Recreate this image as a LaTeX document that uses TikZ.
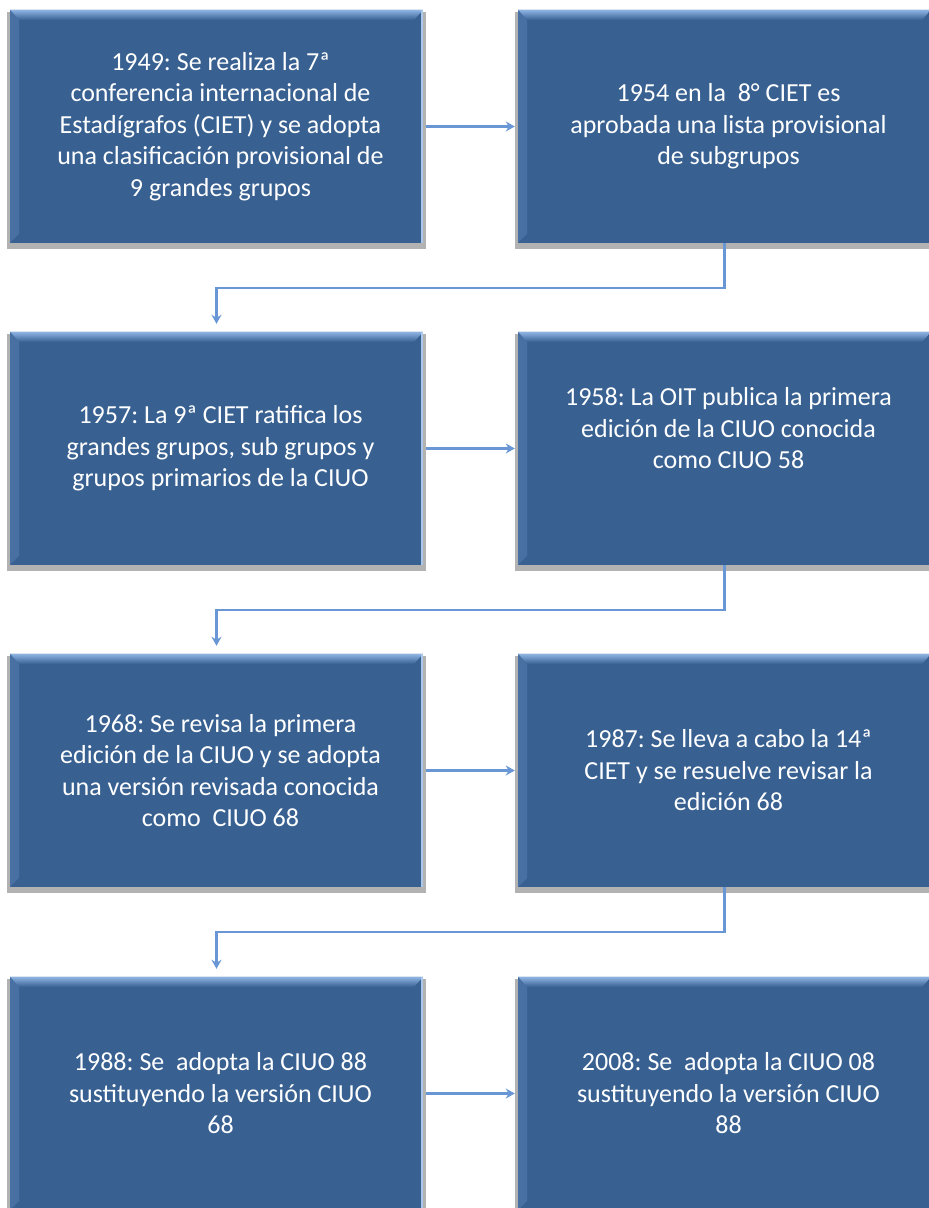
\documentclass[tikz,border=0pt]{standalone}
\usepackage{fontspec}
\setmainfont{Carlito}
\frenchspacing
\usetikzlibrary{arrows.meta,shadows}

\definecolor{boxblue}{RGB}{56,97,146}
\definecolor{bevtop}{RGB}{140,178,226}
\definecolor{bevside}{RGB}{72,112,162}
\definecolor{bevedge}{RGB}{170,200,235}
\definecolor{linkblue}{RGB}{105,150,212}

\begin{document}
\begin{tikzpicture}[x=1pt, y=1pt,
  event/.style={rectangle, fill=boxblue, minimum width=413pt, minimum height=233pt, inner sep=0pt,
    general shadow={fill=black!30, shadow yshift=-4pt, shadow scale=1.015},
    path picture={
      \coordinate (nw) at (path picture bounding box.north west);
      \coordinate (ne) at (path picture bounding box.north east);
      \coordinate (sw) at (path picture bounding box.south west);
      \coordinate (se) at (path picture bounding box.south east);
      \fill[top color=bevtop, bottom color=boxblue] (nw) -- (ne) -- ([shift={(-9pt,-10pt)}]ne) -- ([shift={(9pt,-10pt)}]nw) -- cycle;
      \fill[bevside] (nw) -- ([shift={(9pt,-10pt)}]nw) -- ([shift={(9pt,9pt)}]sw) -- (sw) -- cycle;
      \fill[bevedge] ([xshift=-2.5pt]ne) rectangle (se);
    }},
  caption/.style={text=white, align=center, xshift=4pt, font=\fontsize{26}{31.5}\selectfont},
  link/.style={draw=linkblue, line width=2.2pt, -{Stealth[length=9pt,width=10pt]}}]
\useasboundingbox (0,0) rectangle (929,1208);

% boxes
\node[event] (y1949) at (216.5,1081.5) {};
\node[event] (y1954) at (724.5,1081.5) {};
\node[event] (y1957) at (216.5,759.5) {};
\node[event] (y1958) at (724.5,759.5) {};
\node[event] (y1968) at (216.5,437.5) {};
\node[event] (y1987) at (724.5,437.5) {};
\node[event] (y1988) at (216.5,114.5) {};
\node[event] (y2008) at (724.5,114.5) {};

% texts
\node[caption] (t1949) at (y1949) {1949: Se realiza la 7ª\\conferencia internacional de\\Estadígrafos (CIET) y se adopta\\una clasificación provisional de\\9 grandes grupos};
\node[caption] (t1954) at (y1954) {1954 en la~~8° CIET es\\aprobada una lista provisional\\de subgrupos};
\node[caption] (t1957) at (y1957) {1957: La 9ª CIET ratifica los\\grandes grupos, sub grupos y\\grupos primarios de la CIUO};
\node[caption, yshift=20pt] (t1958) at (y1958) {1958: La OIT publica la primera\\edición de la CIUO conocida\\como CIUO 58};
\node[caption] (t1968) at (y1968) {1968: Se revisa la primera\\edición de la CIUO y se adopta\\una versión revisada conocida\\como~~CIUO 68};
\node[caption] (t1987) at (y1987) {1987: Se lleva a cabo la 14ª\\CIET y se resuelve revisar la\\edición 68};
\node[caption] (t1988) at (y1988) {1988: Se~~adopta la CIUO 88\\sustituyendo la versión CIUO\\68};
\node[caption] (t2008) at (y2008) {2008: Se~~adopta la CIUO 08\\sustituyendo la versión CIUO\\88};

% connectors
\draw[link, shorten <=3pt, shorten >=3pt] (y1949.east) -- (y1954.west);
\draw[link, shorten >=8pt] (y1954.south) -- ++(0,-44.5) -| (y1957.north);
\draw[link, shorten <=3pt, shorten >=3pt] (y1957.east) -- (y1958.west);
\draw[link, shorten >=8pt] (y1958.south) -- ++(0,-44.5) -| (y1968.north);
\draw[link, shorten <=3pt, shorten >=3pt] (y1968.east) -- (y1987.west);
\draw[link, shorten >=8pt] (y1987.south) -- ++(0,-44.5) -| (y1988.north);
\draw[link, shorten <=3pt, shorten >=3pt] (y1988.east) -- (y2008.west);
\end{tikzpicture}
\end{document}
